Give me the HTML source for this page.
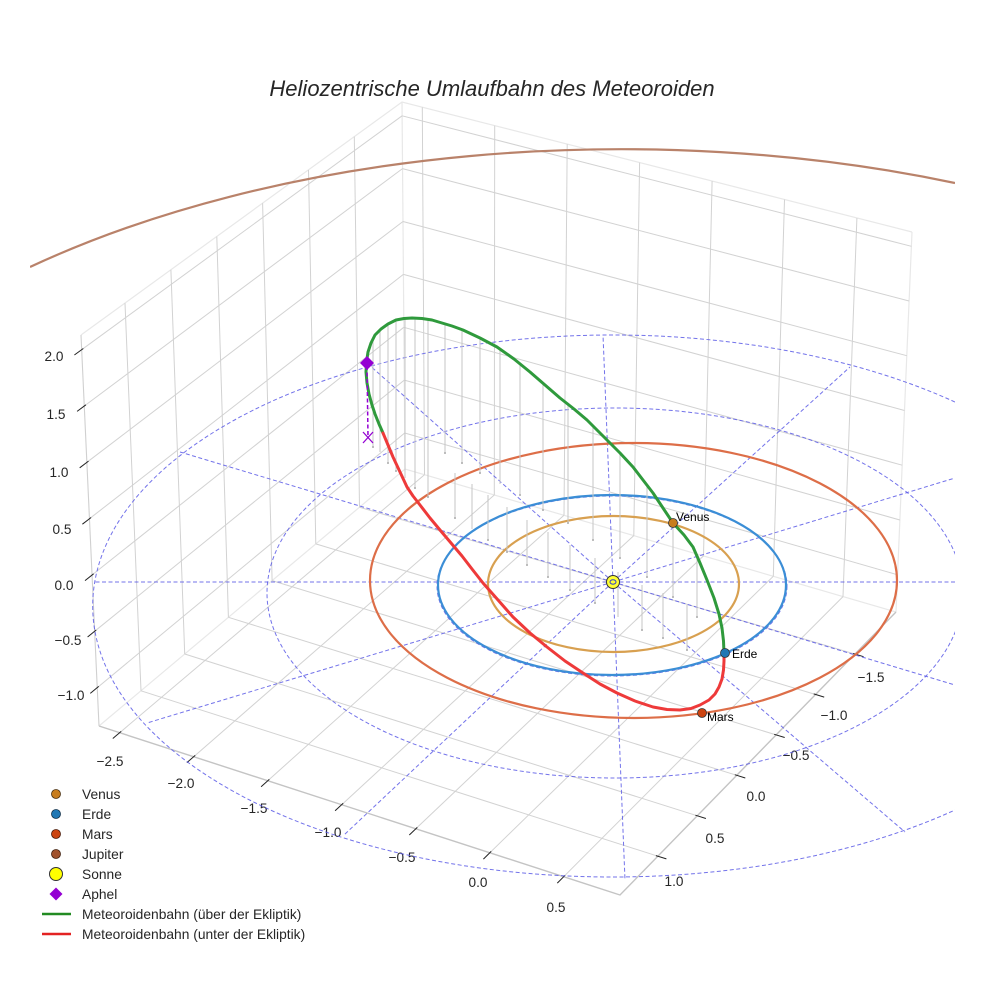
<!DOCTYPE html>
<html>
<head>
<meta charset="utf-8">
<style>
  html,body{margin:0;padding:0;background:#fff;width:984px;height:984px;overflow:hidden;}
  svg{display:block;font-family:"Liberation Sans",sans-serif;}
</style>
</head>
<body>
<svg width="984" height="984" viewBox="0 0 984 984" xmlns="http://www.w3.org/2000/svg">
<defs>
  <clipPath id="ax"><rect x="30" y="0" width="925" height="930"/></clipPath>
</defs>
<rect width="984" height="984" fill="#fff"/>

<text x="492" y="96" text-anchor="middle" font-size="22" font-style="italic" fill="#262626">Heliozentrische Umlaufbahn des Meteoroiden</text>

<g stroke="#e8e8e8" stroke-width="1.2" fill="none">
  <polyline points="81,335 402,102 912,232"/>
  <line x1="402" y1="102" x2="405" y2="469"/>
  <line x1="912" y1="232" x2="896" y2="612"/>
  <polyline points="99,726 405,469 896,612"/>
</g>

<g stroke="#d2d2d2" stroke-width="1" fill="none">
  <line x1="119.7" y1="732.7" x2="424.5" y2="474.7"/>
  <line x1="193.7" y1="756.7" x2="494.3" y2="495.0"/>
  <line x1="267.8" y1="780.7" x2="564.0" y2="515.3"/>
  <line x1="341.7" y1="804.7" x2="633.8" y2="535.6"/>
  <line x1="415.8" y1="828.8" x2="703.5" y2="555.9"/>
  <line x1="489.8" y1="852.8" x2="773.3" y2="576.3"/>
  <line x1="563.7" y1="876.7" x2="843.0" y2="596.6"/>
  <line x1="141.0" y1="690.8" x2="657.8" y2="856.2"/>
  <line x1="184.7" y1="654.0" x2="697.3" y2="815.8"/>
  <line x1="228.4" y1="617.3" x2="736.7" y2="775.3"/>
  <line x1="272.1" y1="580.6" x2="776.1" y2="734.9"/>
  <line x1="315.8" y1="543.9" x2="815.6" y2="694.5"/>
  <line x1="359.5" y1="507.2" x2="855.0" y2="654.1"/>
  <line x1="141.0" y1="690.8" x2="125.0" y2="303.1"/>
  <line x1="184.7" y1="654.0" x2="170.9" y2="269.8"/>
  <line x1="228.4" y1="617.3" x2="216.8" y2="236.5"/>
  <line x1="272.1" y1="580.6" x2="262.6" y2="203.2"/>
  <line x1="315.8" y1="543.9" x2="308.5" y2="169.9"/>
  <line x1="359.5" y1="507.2" x2="354.3" y2="136.6"/>
  <line x1="424.5" y1="474.7" x2="422.3" y2="107.2"/>
  <line x1="494.3" y1="495.0" x2="494.7" y2="125.6"/>
  <line x1="564.0" y1="515.3" x2="567.2" y2="144.1"/>
  <line x1="633.8" y1="535.6" x2="639.6" y2="162.6"/>
  <line x1="703.5" y1="555.9" x2="712.1" y2="181.0"/>
  <line x1="773.3" y1="576.3" x2="784.5" y2="199.5"/>
  <line x1="843.0" y1="596.6" x2="856.9" y2="218.0"/>
  <line x1="81.7" y1="349.7" x2="402.1" y2="115.8"/>
  <line x1="84.3" y1="406.0" x2="402.5" y2="168.6"/>
  <line x1="86.9" y1="462.3" x2="403.0" y2="221.5"/>
  <line x1="89.5" y1="518.7" x2="403.4" y2="274.4"/>
  <line x1="92.0" y1="575.0" x2="403.8" y2="327.3"/>
  <line x1="94.6" y1="631.3" x2="404.3" y2="380.1"/>
  <line x1="97.2" y1="687.7" x2="404.7" y2="433.0"/>
  <line x1="402.1" y1="115.8" x2="911.4" y2="246.3"/>
  <line x1="402.5" y1="168.6" x2="909.1" y2="301.0"/>
  <line x1="403.0" y1="221.5" x2="906.8" y2="355.7"/>
  <line x1="403.4" y1="274.4" x2="904.5" y2="410.5"/>
  <line x1="403.8" y1="327.3" x2="902.2" y2="465.2"/>
  <line x1="404.3" y1="380.1" x2="899.9" y2="520.0"/>
  <line x1="404.7" y1="433.0" x2="897.6" y2="574.8"/>
</g>

<g stroke="#c4c4c4" stroke-width="1.4" fill="none">
  <polyline points="99,726 620,895 896,612"/>
  <line x1="81" y1="335" x2="99" y2="726" stroke="#d0d0d0" stroke-width="1.1"/>
</g>

<g stroke="#222" stroke-width="1">
  <line x1="121.2" y1="731.4" x2="112.8" y2="738.5"/>
  <line x1="195.2" y1="755.4" x2="186.9" y2="762.6"/>
  <line x1="269.3" y1="779.4" x2="261.1" y2="786.7"/>
  <line x1="343.2" y1="803.3" x2="335.1" y2="810.8"/>
  <line x1="417.3" y1="827.4" x2="409.3" y2="835.0"/>
  <line x1="491.2" y1="851.4" x2="483.4" y2="859.1"/>
  <line x1="565.1" y1="875.3" x2="557.3" y2="883.1"/>
  <line x1="655.9" y1="855.6" x2="666.4" y2="858.9"/>
  <line x1="695.4" y1="815.2" x2="705.9" y2="818.5"/>
  <line x1="734.8" y1="774.7" x2="745.3" y2="778.0"/>
  <line x1="774.2" y1="734.3" x2="784.7" y2="737.5"/>
  <line x1="813.7" y1="693.9" x2="824.2" y2="697.1"/>
  <line x1="853.1" y1="653.5" x2="863.6" y2="656.7"/>
  <line x1="83.3" y1="348.5" x2="74.4" y2="355.0"/>
  <line x1="85.9" y1="404.8" x2="77.1" y2="411.4"/>
  <line x1="88.5" y1="461.1" x2="79.7" y2="467.8"/>
  <line x1="91.1" y1="517.5" x2="82.4" y2="524.2"/>
  <line x1="93.6" y1="573.8" x2="85.0" y2="580.6"/>
  <line x1="96.2" y1="630.0" x2="87.6" y2="637.0"/>
  <line x1="98.7" y1="686.4" x2="90.3" y2="693.4"/>
</g>

<g font-size="13.6" fill="#262626" text-anchor="middle">
  <text x="110" y="766">−2.5</text>
  <text x="181" y="788">−2.0</text>
  <text x="254" y="813">−1.5</text>
  <text x="328" y="837">−1.0</text>
  <text x="402" y="862">−0.5</text>
  <text x="478" y="887">0.0</text>
  <text x="556" y="912">0.5</text>
  <text x="871" y="682">−1.5</text>
  <text x="834" y="720">−1.0</text>
  <text x="796" y="760">−0.5</text>
  <text x="756" y="801">0.0</text>
  <text x="715" y="843">0.5</text>
  <text x="674" y="886">1.0</text>
  <text x="54" y="361">2.0</text>
  <text x="56" y="419">1.5</text>
  <text x="59" y="477">1.0</text>
  <text x="62" y="534">0.5</text>
  <text x="64" y="590">0.0</text>
  <text x="68" y="645">−0.5</text>
  <text x="71" y="700">−1.0</text>
</g>

<g clip-path="url(#ax)">
  <g stroke="#5a5ae6" stroke-opacity="0.85" stroke-width="1" fill="none" stroke-dasharray="4 2.5">
    <ellipse cx="612" cy="586" rx="175" ry="90"/>
    <ellipse cx="615" cy="593" rx="348" ry="185"/>
    <path d="M955,402 A520,271 0 1 0 955,810"/>
    <line x1="613" y1="582" x2="955" y2="685"/>
    <line x1="613" y1="582" x2="905" y2="832"/>
    <line x1="613" y1="582" x2="625" y2="880"/>
    <line x1="613" y1="582" x2="344" y2="835"/>
    <line x1="613" y1="582" x2="147" y2="723"/>
    <line x1="613" y1="582" x2="93" y2="582"/>
    <line x1="613" y1="582" x2="180" y2="452"/>
    <line x1="613" y1="582" x2="367" y2="363"/>
    <line x1="613" y1="582" x2="603" y2="335"/>
    <line x1="613" y1="582" x2="850" y2="367"/>
    <line x1="613" y1="582" x2="955" y2="478"/>
    <line x1="613" y1="582" x2="955" y2="582"/>
  </g>
  <path d="M30,267 A884,458 0 0 1 955,183" fill="none" stroke="#b9826a" stroke-width="2.2"/>
  <ellipse cx="633.5" cy="580.5" rx="263.5" ry="137.5" fill="none" stroke="#dd6e48" stroke-width="2.2"/>
  <ellipse cx="612" cy="585" rx="174" ry="90" fill="none" stroke="#3b8ed6" stroke-width="2.2"/>
  <ellipse cx="613.5" cy="584" rx="125.5" ry="68" fill="none" stroke="#d8a050" stroke-width="2.2"/>
</g>

<g stroke="#c6c6c6" stroke-width="1" fill="none">
  <line x1="373" y1="338" x2="373" y2="447"/>
  <line x1="380" y1="329" x2="380" y2="452"/>
  <line x1="388" y1="324" x2="388" y2="463"/>
  <line x1="396" y1="321" x2="396" y2="471"/>
  <line x1="405" y1="319" x2="405" y2="478"/>
  <line x1="415" y1="318" x2="415" y2="488"/>
  <line x1="428" y1="319" x2="428" y2="497"/>
  <line x1="445" y1="324" x2="445" y2="453"/>
  <line x1="462" y1="330" x2="462" y2="463"/>
  <line x1="480" y1="338" x2="480" y2="473"/>
  <line x1="500" y1="348" x2="500" y2="484"/>
  <line x1="520" y1="364" x2="520" y2="495"/>
  <line x1="543" y1="383" x2="543" y2="510"/>
  <line x1="568" y1="405" x2="568" y2="523"/>
  <line x1="593" y1="425" x2="593" y2="540"/>
  <line x1="620" y1="453" x2="620" y2="558"/>
  <line x1="647" y1="485" x2="647" y2="577"/>
  <line x1="673" y1="525" x2="673" y2="597"/>
  <line x1="697" y1="557" x2="697" y2="617"/>
  <line x1="455" y1="473" x2="455" y2="518"/>
  <line x1="472" y1="484" x2="472" y2="529"/>
  <line x1="488" y1="495" x2="488" y2="540"/>
  <line x1="507" y1="507" x2="507" y2="552"/>
  <line x1="527" y1="520" x2="527" y2="565"/>
  <line x1="548" y1="532" x2="548" y2="577"/>
  <line x1="570" y1="545" x2="570" y2="590"/>
  <line x1="595" y1="558" x2="595" y2="603"/>
  <line x1="618" y1="572" x2="618" y2="617"/>
  <line x1="642" y1="585" x2="642" y2="630"/>
  <line x1="663" y1="593" x2="663" y2="638"/>
  <line x1="687" y1="605" x2="687" y2="650"/>
</g>
<g fill="#aaa">
  <circle cx="373" cy="447" r="1"/><circle cx="388" cy="463" r="1"/><circle cx="396" cy="471" r="1"/>
  <circle cx="415" cy="488" r="1"/><circle cx="428" cy="497" r="1"/><circle cx="445" cy="453" r="1"/>
  <circle cx="462" cy="463" r="1"/><circle cx="480" cy="473" r="1"/><circle cx="520" cy="495" r="1"/>
  <circle cx="543" cy="510" r="1"/><circle cx="568" cy="523" r="1"/><circle cx="593" cy="540" r="1"/>
  <circle cx="620" cy="558" r="1"/><circle cx="647" cy="577" r="1"/><circle cx="673" cy="597" r="1"/>
  <circle cx="697" cy="617" r="1"/><circle cx="455" cy="518" r="1"/><circle cx="488" cy="540" r="1"/>
  <circle cx="507" cy="552" r="1"/><circle cx="527" cy="565" r="1"/><circle cx="548" cy="577" r="1"/>
  <circle cx="570" cy="590" r="1"/><circle cx="595" cy="603" r="1"/><circle cx="642" cy="630" r="1"/>
  <circle cx="663" cy="638" r="1"/><circle cx="687" cy="650" r="1"/>
</g>

<polyline fill="none" stroke="#2f9a3c" stroke-width="3" stroke-linejoin="round" stroke-linecap="round"
  points="724,653 723.5,641 722,628 719,614 714,598 707,580 700,563 693,547 684,535 673,523 663,508 653,493 643,480 633,467 620,453 607,440 597,430 587,420 574,409 560,398 545,385 530,372 514,359 497,347 480,338 463,330 452,326 442,323 432,320 422,318.5 412,318 404,318.5 396,320 388,324 381,329 375,335 371,343 368,352 366.5,362 366,372 367,383 369,394 372,405 375,414 379,424 383,433"/>
<polyline fill="none" stroke="#ee3a3a" stroke-width="3" stroke-linejoin="round" stroke-linecap="round"
  points="383,433 388,445 393,457 400,472 407,487 413,496 420,505 430,518 440,530 451,543 462,556 472,569 483,583 498,600 513,617 530,633 547,647 565,661 583,673 600,684 617,693 635,701 653,707 667,709.5 680,710 691,708.5 700,705 709,700 715,694 719,687 722,679 723.5,670 724,661 724,653"/>

<line x1="367" y1="366" x2="368" y2="437" stroke="#9400d3" stroke-width="1.5" stroke-dasharray="4 2.5"/>
<g stroke="#9400d3" stroke-width="1.3">
  <line x1="363" y1="432" x2="373" y2="443"/>
  <line x1="373" y1="432" x2="363" y2="443"/>
</g>
<polygon points="367,356 374,363 367,370 360,363" fill="#9400d3"/>

<circle cx="613" cy="582" r="6.5" fill="#ffff33" stroke="#333" stroke-width="1"/>
<ellipse cx="613" cy="582" rx="3" ry="2.2" fill="none" stroke="#3344cc" stroke-width="1"/>

<circle cx="673" cy="523" r="4.5" fill="#c87d1e" stroke="#333" stroke-width="0.8"/>
<circle cx="725" cy="653" r="4.5" fill="#1f77b4" stroke="#333" stroke-width="0.8"/>
<circle cx="702" cy="713" r="4.5" fill="#cc4411" stroke="#333" stroke-width="0.8"/>
<g font-size="12" fill="#000">
  <text x="676" y="521">Venus</text>
  <text x="732" y="658">Erde</text>
  <text x="707" y="721">Mars</text>
</g>

<circle cx="56" cy="794" r="4.5" fill="#c87d1e" stroke="#4a3010" stroke-width="0.8"/>
<circle cx="56" cy="814" r="4.5" fill="#1f77b4" stroke="#10304a" stroke-width="0.8"/>
<circle cx="56" cy="834" r="4.5" fill="#cc4411" stroke="#4a1a08" stroke-width="0.8"/>
<circle cx="56" cy="854" r="4.5" fill="#a0522d" stroke="#40200f" stroke-width="0.8"/>
<circle cx="56" cy="874" r="6.5" fill="#ffff00" stroke="#333" stroke-width="1"/>
<polygon points="56,887.5 62.5,894 56,900.5 49.5,894" fill="#9400d3"/>
<line x1="42" y1="914" x2="71" y2="914" stroke="#228b22" stroke-width="2.5"/>
<line x1="42" y1="934" x2="71" y2="934" stroke="#e32222" stroke-width="2.5"/>
<g font-size="13.8" fill="#262626">
  <text x="82" y="799">Venus</text>
  <text x="82" y="819">Erde</text>
  <text x="82" y="839">Mars</text>
  <text x="82" y="859">Jupiter</text>
  <text x="82" y="879">Sonne</text>
  <text x="82" y="899">Aphel</text>
  <text x="82" y="919">Meteoroidenbahn (über der Ekliptik)</text>
  <text x="82" y="939">Meteoroidenbahn (unter der Ekliptik)</text>
</g>
</svg>
</body>
</html>
